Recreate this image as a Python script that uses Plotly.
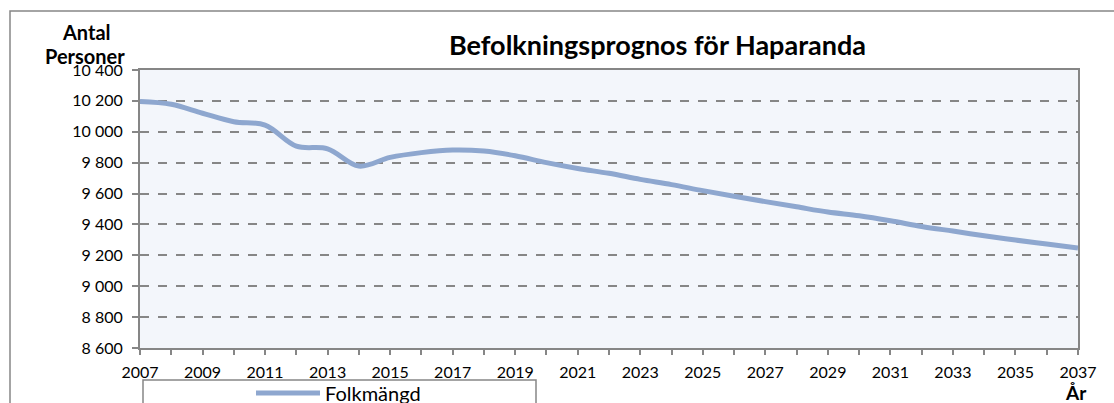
import plotly.graph_objects as go

# Befolkningsprognos, Haparanda
years = list(range(2007, 2038))
folkmangd = [10196, 10178, 10120, 10065, 10043, 9907, 9890, 9778, 9834, 9865,
             9882, 9875, 9845, 9800, 9762, 9731, 9692, 9658, 9619, 9583,
             9548, 9514, 9480, 9456, 9424, 9387, 9357, 9327, 9299, 9273, 9247]

y_ticks = list(range(8600, 10401, 200))
x_ticks = list(range(2007, 2038, 2))

font = "Lato"
grey = "#868686"


# helpers: pixel -> paper coords of the plot area (140..1078, 70..348)
def px_x(px):
    return (px - 140) / 938


def px_y(py):
    return (348 - py) / 278


fig = go.Figure()
fig.add_trace(go.Scatter(x=years, y=folkmangd, name="Folkmängd", mode="lines",
                         line=dict(color="#8EA7CF", width=5, shape="spline", smoothing=1)))

fig.update_layout(
    width=1114, height=403,
    margin=dict(l=140, r=36, t=70, b=55),
    paper_bgcolor="white", plot_bgcolor="#F3F6FB",
    separators=", ",
    font=dict(family=font, size=16, color="black"),
    showlegend=True,
    legend=dict(orientation="h", xref="container", yref="container",
                x=251 / 1114, y=(403 - 393) / 403,
                xanchor="left", yanchor="middle",
                itemwidth=64, font=dict(size=20), bgcolor="rgba(0,0,0,0)"),
)

fig.layout.annotations = [
    dict(text="<b>Befolkningsprognos för Haparanda</b>", x=px_x(657), y=px_y(45),
         xref="paper", yref="paper", xanchor="center", yanchor="middle",
         showarrow=False, font=dict(size=27)),
    dict(text="<b>Antal</b>", x=px_x(86), y=px_y(32), xref="paper", yref="paper",
         xanchor="center", yanchor="middle", showarrow=False, font=dict(size=20)),
    dict(text="<b>Personer</b>", x=px_x(85), y=px_y(56), xref="paper", yref="paper",
         xanchor="center", yanchor="middle", showarrow=False, font=dict(size=20)),
    dict(text="<b>År</b>", x=px_x(1076), y=px_y(393), xref="paper", yref="paper",
         xanchor="center", yanchor="middle", showarrow=False, font=dict(size=19)),
]

fig.update_layout(shapes=[
    # chart area border
    dict(type="rect", xref="paper", yref="paper", x0=px_x(10), x1=px_x(1400),
         y0=px_y(500), y1=px_y(11), line=dict(color=grey, width=1.5), layer="below"),
    # legend box
    dict(type="rect", xref="paper", yref="paper", x0=px_x(143), x1=px_x(536),
         y0=px_y(500), y1=px_y(380), line=dict(color=grey, width=1.5), fillcolor="white",
         layer="below"),
])

fig.update_xaxes(range=[2007, 2037], tickvals=x_ticks, showgrid=False,
                 showline=True, linecolor=grey, linewidth=2, mirror=True,
                 ticks="outside", ticklen=5, tickcolor=grey, tickwidth=1.5,
                 minor=dict(dtick=1, ticks="outside", ticklen=5, tickcolor=grey, tickwidth=1.5),
                 ticklabelstandoff=4, zeroline=False, automargin=False)
fig.update_yaxes(range=[8600, 10400], tickvals=y_ticks, tickformat=",d",
                 showgrid=True, gridcolor=grey, griddash="dash", gridwidth=1.5,
                 showline=True, linecolor=grey, linewidth=2, mirror=True,
                 ticks="outside", ticklen=6, tickcolor=grey, tickwidth=1.5,
                 ticklabelstandoff=6, zeroline=False, automargin=False)

# no page margin / scrollbars so the figure sits at the window corner
fig.write_html("out.html", config={"displayModeBar": False},
               post_script="document.body.style.margin='0';document.body.style.overflow='hidden';")
